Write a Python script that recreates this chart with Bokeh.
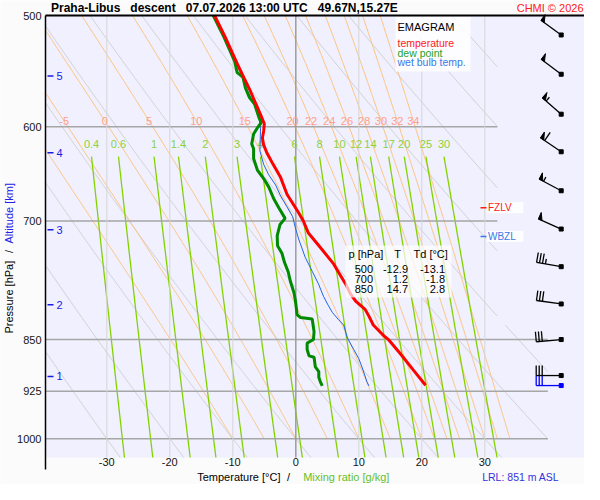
import math
import numpy as np
from bokeh.plotting import figure
from bokeh.models import Range1d, FixedTicker, NumeralTickFormatter
from bokeh.core.properties import value
from bokeh.embed import file_html
from bokeh.resources import INLINE

# ---------------- data ----------------
temp_p = [500, 518, 530, 541, 554, 566, 577, 588, 597, 604, 611, 618, 626, 638, 652, 670, 690, 700,
          714, 731, 751, 776, 789, 798, 809, 818, 830, 845, 850, 870, 894, 916]
temp_t = [-12.9, -11.2, -10.2, -9.3, -8.2, -7.2, -6.4, -5.6, -5.0, -5.1, -5.3, -5.1, -4.6, -3.6, -2.4, -1.4, 0.4, 1.2,
          2.0, 3.9, 6.0, 7.9, 8.7, 9.5, 11.0, 11.6, 12.3, 14.0, 14.7, 16.6, 18.7, 20.6]

dew_p = [500, 518, 539, 549, 553, 563, 572, 578, 590, 596, 601, 607, 617, 622, 632, 644, 653, 662, 675, 685,
         697, 704, 717, 729, 738, 749, 761, 773, 787, 798, 816, 820, 822, 839, 850, 855, 864, 873, 875, 889,
         896, 904, 911, 917]
dew_td = [-13.1, -11.4, -9.7, -9.3, -8.4, -8.0, -7.35, -6.55, -5.9, -5.5, -6.1, -6.7, -7.0, -6.7, -6.7, -6.1, -5.1,
          -4.3, -3.5, -2.7, -1.7, -2.5, -2.95, -2.9, -2.2, -1.8, -1.2, -0.85, -0.3, -0.05, 0.2, 0.75, 2.6, 2.9, 2.8,
          1.8, 1.8, 2.1, 2.9, 3.1, 3.65, 3.65, 3.9, 4.2]

wet_p = [500, 518, 541, 566, 588, 602, 624, 638, 649, 660, 672, 684, 695, 707, 722, 743, 760, 776, 792, 803,
         813, 823, 830, 848, 864, 877, 889, 911, 917]
wet_tw = [-13.0, -11.3, -9.4, -7.6, -5.9, -5.6, -5.7, -5.1, -4.3, -3.2, -2.4, -1.4, -0.5, -0.1, 0.5, 1.5, 2.6,
          3.6, 4.4, 5.1, 5.8, 6.8, 7.6, 8.2, 9.2, 10.0, 10.5, 11.3, 11.6]

table_p = [500, 700, 850]
table_t = [-12.9, 1.2, 14.7]
table_td = [-13.1, -1.8, 2.8]

fzlv_p = 685
wbzl_p = 718
lrl_m = 851

alt_km = [1, 2, 3, 4, 5]
alt_p = [903, 803, 710, 626, 552]

wind_p = [916.5, 901.6, 850.0, 801.9, 754.4, 709.3, 666.2, 625.0, 587.7, 550.5, 516.2]
wind_dir = [270, 270, 265, 278, 280, 294, 298, 304, 311, 307, 306]
wind_kt = [30, 30, 30, 30, 35, 50, 55, 60, 55, 50, 50]

p_ticks = [500, 600, 700, 850, 925, 1000]
t_ticks = [-30, -20, -10, 0, 10, 20, 30]
theta_dry = list(range(-30, 101, 10))
theta_w = [-10, -5, 0, 5, 10, 15, 20, 22, 24, 26, 28, 30, 32, 34]
mix_ratio = [0.4, 0.6, 1, 1.4, 2, 3, 4, 6, 8, 10, 12, 14, 17, 20, 25, 30]
mix_labels = ["0.4", "0.6", "1", "1.4", "2", "3", "4", "6", "8", "10", "12", "14", "17", "20", "25", "30"]

title_text = "Praha-Libus\u00a0\u00a0\u00a0descent\u00a0\u00a0\u00a007.07.2026 13:00 UTC\u00a0\u00a0\u00a049.67N,15.27E"

# ---------------- layout helpers (pixel -> data) ----------------
W, H = 584, 484
X0 = 295.3   # pixel of 0 degC
SX = 6.3     # px per degC
Y500 = 15.0  # pixel of 500 hPa
SY = 610.7   # px per ln(p)


def tx(xr):
    return (xr - X0) / SX


def py(yr):
    return 500.0 * math.exp((yr - Y500) / SY)


T_L, T_R = tx(45), tx(591)
P_TOP, P_BOT = 500.0, py(457)
FONT = "Liberation Sans"


def t_max(p):
    return 32.0 if p < 830 else 40.0


def runs(T, P):
    segs = []
    cx, cy = [], []
    for t, pp in zip(T, P):
        if T_L <= t <= t_max(pp) and P_TOP <= pp <= P_BOT:
            cx.append(float(t)); cy.append(float(pp))
        else:
            if len(cx) > 1:
                segs.append((cx, cy))
            cx, cy = [], []
    if len(cx) > 1:
        segs.append((cx, cy))
    return segs


def es(tc):
    return 6.112 * math.exp(17.67 * tc / (tc + 243.5))


def td_from_e(e):
    ln = math.log(e / 6.112)
    return 243.5 * ln / (17.67 - ln)


RD, CP, LV, EPS = 287.04, 1005.7, 2.501e6, 0.622


def dTdp(T, p):
    e = es(T - 273.15)
    rs = EPS * e / (p - e)
    return (RD * T + LV * rs) / (p * (CP + LV * LV * rs * EPS / (RD * T * T)))


def pseudo_adiabat(tw):
    T = tw + 273.15
    p = 1000.0
    h = -1.0
    ps, ts = [p], [T - 273.15]
    while p > 500.0 + 1e-6:
        k1 = dTdp(T, p)
        k2 = dTdp(T + h * k1 / 2, p + h / 2)
        k3 = dTdp(T + h * k2 / 2, p + h / 2)
        k4 = dTdp(T + h * k3, p + h)
        T += h * (k1 + 2 * k2 + 2 * k3 + k4) / 6
        p += h
        ps.append(p); ts.append(T - 273.15)
    return ts, ps


def txt(x, y, text, size="11px", color="#000000", align="left", baseline="middle", style="normal", angle=0.0):
    p.text(x=x, y=y, text=text, text_font=value(FONT), text_font_size=value(size), text_color=color,
           text_align=align, text_baseline=baseline, text_font_style=style, angle=angle)


p = figure(width=W, height=H, x_range=Range1d(tx(0), tx(W)), y_range=Range1d(py(H), py(0)),
           y_axis_type="log", output_backend="svg", toolbar_location=None, title=None,
           min_border_left=0, min_border_right=0, min_border_top=0, min_border_bottom=0,
           background_fill_color="#fbfbfb", border_fill_color="#fbfbfb", outline_line_color=None)
p.grid.visible = False

for ax in (p.xaxis, p.yaxis):
    ax.axis_line_color = None
    ax.major_tick_line_color = None
    ax.minor_tick_line_color = None
    ax.major_tick_out = 0
    ax.major_tick_in = 0
    ax.minor_tick_out = 0
    ax.major_label_text_font = FONT
    ax.major_label_text_font_size = "11px"
    ax.major_label_text_color = "#151515"
    ax.formatter = NumeralTickFormatter(format="0")
p.xaxis.ticker = FixedTicker(ticks=t_ticks)
p.yaxis.ticker = FixedTicker(ticks=p_ticks)
p.xaxis.fixed_location = P_BOT
p.yaxis.fixed_location = T_L
p.xaxis.major_label_standoff = 0
p.yaxis.major_label_standoff = 4

# plot area background
p.quad(left=T_L, right=T_R, top=P_TOP, bottom=P_BOT, fill_color="#f0f0fe", line_color=None)

# ---------------- isolines ----------------
pp_dense = np.linspace(P_TOP, P_BOT, 900)
dry_xs, dry_ys = [], []
for th in theta_dry:
    Ts = (th + 273.15) * (pp_dense / 1000.0) ** 0.2857 - 273.15
    for sx_, sy_ in runs(Ts, pp_dense):
        dry_xs.append(sx_); dry_ys.append(sy_)
p.multi_line(dry_xs, dry_ys, line_color="#cdcdcd", line_width=1)

wet_xs, wet_ys, wet_lab_x = [], [], []
for tw in theta_w:
    ts, ps = pseudo_adiabat(tw)
    for sx_, sy_ in runs(ts, ps):
        wet_xs.append(sx_); wet_ys.append(sy_)
    wet_lab_x.append(float(np.interp(py(120.5), ps[::-1], ts[::-1])))
p.multi_line(wet_xs, wet_ys, line_color="#ffc078", line_width=1)

mix_xs, mix_ys, mix_lab_x = [], [], []
pm = np.linspace(630, P_BOT, 80)
for w in mix_ratio:
    Ts = [td_from_e(w * pv / (622.0 + w)) for pv in pm]
    mix_xs.append(Ts); mix_ys.append(list(pm))
    mix_lab_x.append(Ts[0])
p.multi_line(mix_xs, mix_ys, line_color="#84d200", line_width=1.3)

# grid lines
for pv in p_ticks[1:]:
    p.line([T_L, t_max(pv)], [pv, pv], line_color="#a6a6a6", line_width=1.5)
for tv in t_ticks:
    if tv == 0:
        p.line([tv, tv], [P_TOP, P_BOT], line_color="#9c9c9c", line_width=1.5)
    else:
        p.line([tv, tv], [P_TOP, P_BOT], line_color="#d6d6d6", line_width=1)

# isoline labels
keep = [i for i, v in enumerate(wet_lab_x) if v > T_L + 1.5]
txt([wet_lab_x[i] for i in keep], [py(120.5)] * len(keep), [str(theta_w[i]) for i in keep],
    color="#ffa08c", align="center")
txt(mix_lab_x, [py(143)] * len(mix_ratio), mix_labels, color="#8cd23c", align="center")

# altitude marks
for km, ap in zip(alt_km, alt_p):
    p.line([tx(47), tx(53)], [ap, ap], line_color="#1a1ae6", line_width=1.5)
txt([tx(56)] * len(alt_km), alt_p, [str(k) for k in alt_km], color="#1a1ae6")

# ---------------- profiles ----------------
p.line(wet_tw, wet_p, line_color="#1e64e6", line_width=1)
p.line(dew_td, dew_p, line_color="#008a00", line_width=3)
p.line(temp_t, temp_p, line_color="#ff0000", line_width=3)

# ---------------- legend box ----------------
p.quad(left=tx(395), right=tx(470), top=py(16), bottom=py(71), fill_color="white", fill_alpha=0.85, line_color=None)
txt([tx(397)], [py(26.5)], ["EMAGRAM"])
txt([tx(397)] * 3, [py(42.5), py(52), py(61.5)], ["temperature", "dew point", "wet bulb temp."],
    size="10.5px", color=["#ff1a1a", "#1fa01f", "#3a78e6"])

# ---------------- table ----------------
p.quad(left=tx(345), right=tx(451), top=py(245), bottom=py(297), fill_color="white", fill_alpha=0.7, line_color=None)
txt([tx(348), tx(397), tx(413)], [py(253)] * 3, ["p [hPa]", "T", "Td [°C]"], align=["left", "center", "left"])
row_y = [py(268), py(278.5), py(288.5)]
txt([tx(372.5)] * 3, row_y, [str(v) for v in table_p], align="right")
txt([tx(407.5)] * 3, row_y, ["%.1f" % v for v in table_t], align="right")
txt([tx(444.5)] * 3, row_y, ["%.1f" % v for v in table_td], align="right")

# ---------------- FZLV / WBZL ----------------
for lev, name, col in ((fzlv_p, "FZLV", "#ff1a1a"), (wbzl_p, "WBZL", "#3a78e6")):
    p.quad(left=tx(486), right=tx(523), top=lev * math.exp(-5.5 / SY), bottom=lev * math.exp(5.5 / SY),
           fill_color="white", fill_alpha=0.85, line_color=None)
    p.line([tx(480), tx(486)], [lev, lev], line_color=col, line_width=1.3)
    txt([tx(487.5)], [lev], [name], size="10px", color=col)

# ---------------- wind barbs ----------------
TB = tx(560.7)


def barb(pb, d, spd):
    rad = math.radians(d)
    ux, uy = math.sin(rad), -math.cos(rad)
    fx, fy = math.cos(rad), math.sin(rad)
    L = 25.0

    def pt(dx, dy):
        return TB + dx / SX, pb * math.exp(dy / SY)

    tipx, tipy = ux * L, uy * L
    lines = [[pt(0, 0), pt(tipx, tipy)]]
    tris = []
    n50 = spd // 50
    rem = spd - 50 * n50
    n10 = rem // 10
    n5 = 1 if rem % 10 >= 5 else 0
    pos = 0.0
    for _ in range(n50):
        a = (tipx - ux * pos, tipy - uy * pos)
        b = (tipx - ux * (pos + 4), tipy - uy * (pos + 4))
        c = (a[0] + fx * 7, a[1] + fy * 7)
        tris.append([pt(*a), pt(*b), pt(*c)])
        pos += 5
    for _ in range(n10):
        a = (tipx - ux * pos, tipy - uy * pos)
        lines.append([pt(*a), pt(a[0] + fx * 10, a[1] + fy * 10)])
        pos += 3
    if n5:
        if pos == 0:
            pos = 3
        a = (tipx - ux * pos, tipy - uy * pos)
        lines.append([pt(*a), pt(a[0] + fx * 5, a[1] + fy * 5)])
    return lines, tris


for i, (pb, d, s) in enumerate(zip(wind_p, wind_dir, wind_kt)):
    col = "#0000ff" if i == 0 else "#000000"
    lines, tris = barb(pb, d, s)
    p.multi_line([[q[0] for q in ln] for ln in lines], [[q[1] for q in ln] for ln in lines],
                 line_color=col, line_width=1.3)
    if tris:
        p.patches([[q[0] for q in t] for t in tris], [[q[1] for q in t] for t in tris],
                  fill_color=col, line_color=col, line_width=1)
    p.scatter([TB], [pb], marker="square", size=4, color=col)

# ---------------- frame lines ----------------
p.line([T_L, T_R], [P_TOP, P_TOP], line_color="#000000", line_width=2)
p.line([T_L, T_L], [P_TOP, py(469)], line_color="#000000", line_width=1.5)

# ---------------- texts around the plot ----------------
txt([tx(50.5)], [py(7.5)], [title_text], size="12px", style="bold")
txt([tx(583)], [py(7.5)], ["CHMI © 2026"], color="#ff2020", align="right")

txt([tx(196.7)], [py(476)], ["Temperature [°C]"])
txt([tx(288)], [py(476)], ["/"], align="center")
txt([tx(302.7)], [py(476)], ["Mixing ratio [g/kg]"], color="#66c02a")
txt([tx(481.7)], [py(476.5)], ["LRL: %d m ASL" % lrl_m], size="10.5px", color="#3333dd")

txt([tx(8.5)], [py(333)], ["Pressure [hPa]"], angle=math.pi / 2)
txt([tx(8.5)], [py(251)], ["/"], align="center", angle=math.pi / 2)
txt([tx(8.5)], [py(243)], ["Altitude [km]"], color="#2020e6", angle=math.pi / 2)

open("out.html", "w").write(file_html(p, INLINE))
